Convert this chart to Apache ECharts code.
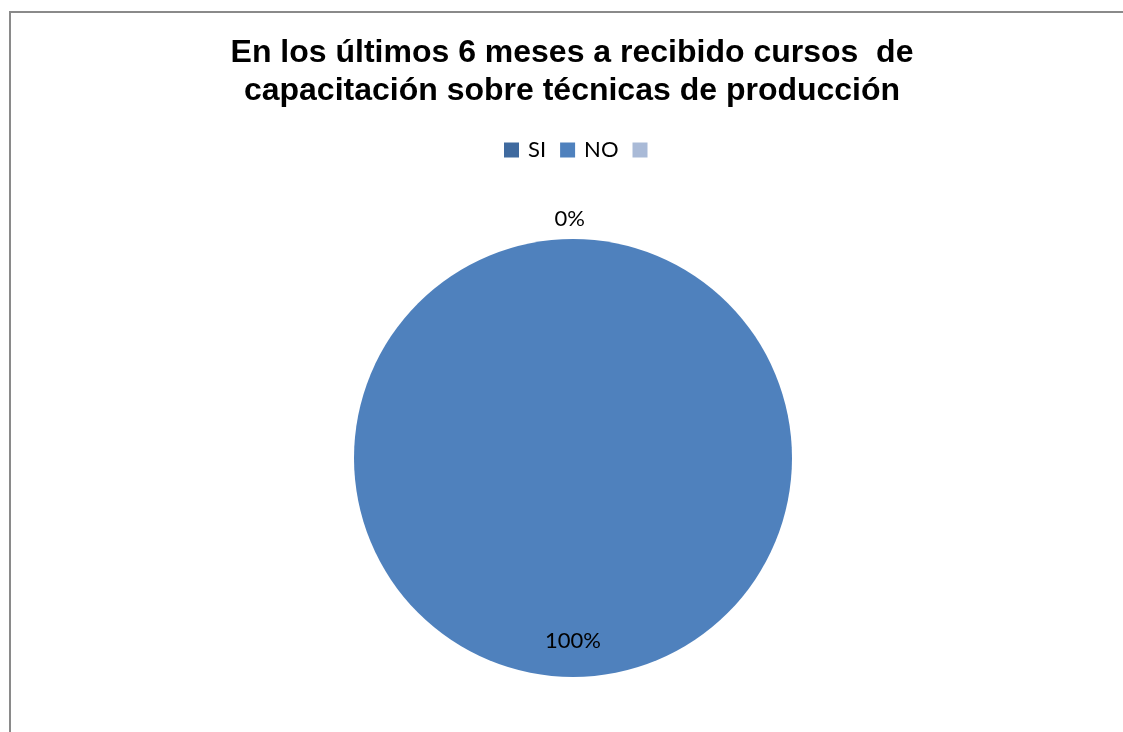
<!DOCTYPE html>
<html>
<head>
<meta charset="utf-8">
<script src="https://cdn.jsdelivr.net/npm/echarts@6/dist/echarts.min.js"></script>
<style>
  html, body { margin: 0; padding: 0; background: #fff; }
  #chart { width: 1123px; height: 732px; }
</style>
</head>
<body>
<div id="chart"></div>
<script>
// Survey answers: training courses received in the last 6 months
const categories = ['SI', 'NO', ' '];
const values = [0, 100, 0];
const colors = ['#3F6A9F', '#4F81BD', '#A9BAD7'];
const titleText = 'En los últimos 6 meses a recibido cursos  de\ncapacitación sobre técnicas de producción';

const chart = echarts.init(document.getElementById('chart'));

const total = values.reduce((a, b) => a + b, 0);
const pctText = v => Math.round(v / total * 100) + '%';

const pieData = categories.map((name, i) => {
  const item = { name: name, value: values[i], itemStyle: { color: colors[i] } };
  if (i === 0) {
    item.label = { show: true, position: 'outside', offset: [17, -12] };
  } else if (i === 1) {
    item.label = { show: true, position: 'inside', offset: [0, 70] };
  } else {
    item.label = { show: false };
  }
  return item;
});

chart.setOption({
  backgroundColor: '#ffffff',
  animation: false,
  graphic: [{
    type: 'rect',
    shape: { x: 10, y: 12, width: 1300, height: 900 },
    style: { fill: 'none', stroke: '#8a8a8a', lineWidth: 2 },
    silent: true
  }],
  title: {
    text: titleText,
    left: 567,
    top: 29,
    textAlign: 'center',
    textStyle: {
      fontFamily: 'Liberation Sans',
      fontWeight: 'bold',
      fontSize: 32,
      lineHeight: 38,
      color: '#000'
    }
  },
  legend: {
    data: categories,
    top: 134,
    left: 499,
    itemWidth: 15,
    itemHeight: 15,
    itemGap: 14,
    icon: 'rect',
    selectedMode: false,
    textStyle: { fontFamily: 'Lato', fontSize: 22, color: '#000', padding: [0, 0, 0, 4] }
  },
  series: [{
    type: 'pie',
    center: [573, 458],
    radius: [0, 219],
    startAngle: 90,
    clockwise: true,
    stillShowZeroSum: true,
    avoidLabelOverlap: false,
    minShowLabelAngle: 0,
    data: pieData,
    itemStyle: { borderWidth: 0 },
    label: {
      fontFamily: 'Lato',
      fontSize: 22,
      color: '#000',
      formatter: p => pctText(p.value)
    },
    labelLine: { show: false, length: 8, length2: 0 },
    emphasis: { disabled: true }
  }]
});
</script>
</body>
</html>
